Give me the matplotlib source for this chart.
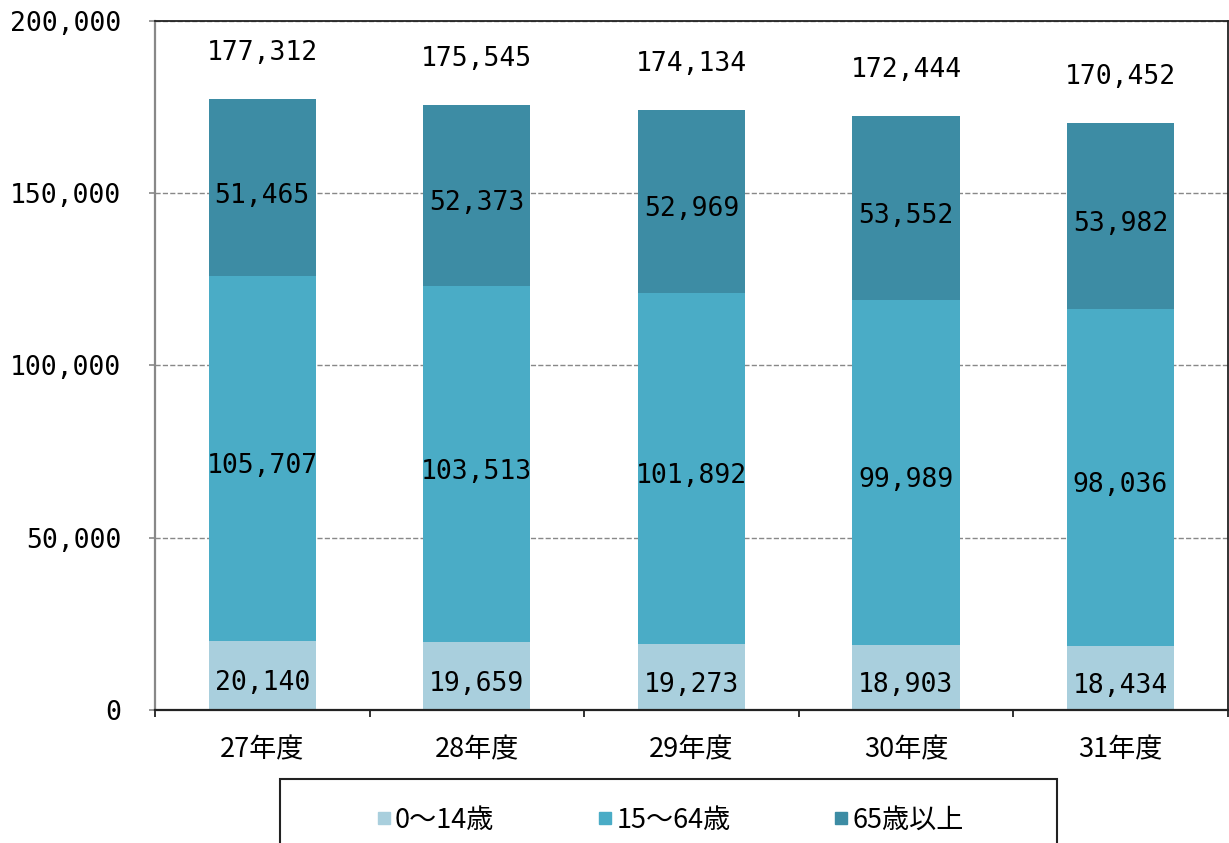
import matplotlib.pyplot as plt
from matplotlib.lines import Line2D
from matplotlib.patches import Rectangle
from matplotlib.ticker import FuncFormatter
import numpy as np

plt.rcParams['font.family'] = ['Noto Sans CJK JP', 'DejaVu Sans']

# 年齢3区分別人口
years = ['27年度', '28年度', '29年度', '30年度', '31年度']
age_0_14 = [20140, 19659, 19273, 18903, 18434]
age_15_64 = [105707, 103513, 101892, 99989, 98036]
age_65_over = [51465, 52373, 52969, 53552, 53982]
totals = [177312, 175545, 174134, 172444, 170452]

series = [
    ('0～14歳', age_0_14, '#a9cfdd'),
    ('15～64歳', age_15_64, '#4aacc6'),
    ('65歳以上', age_65_over, '#3d8ca4'),
]

num_font = ['DejaVu Sans Mono', 'Noto Sans CJK JP']

fig = plt.figure(figsize=(12.29, 8.43), dpi=100)
ax = fig.add_axes([0.1261, 0.1578, 0.8729, 0.8173])

x = np.arange(len(years))
bottom = np.zeros(len(years))
for name, vals, color in series:
    bars = ax.bar(x, vals, width=0.5, bottom=bottom, color=color, label=name, zorder=2)
    for rect, v in zip(bars, vals):
        ax.annotate(f'{v:,}', (rect.get_x() + rect.get_width() / 2, rect.get_y() + v / 2),
                    xytext=(0, -3.5), textcoords='offset points',
                    ha='center', va='center_baseline', fontsize=19, family=num_font, zorder=3)
    bottom += np.array(vals)

# 合計
for xi, t in zip(x, totals):
    ax.annotate(f'{t:,}', (xi, t), xytext=(0, 33), textcoords='offset points',
                ha='center', va='center', fontsize=19, family=num_font)

ax.set_xlim(-0.5, len(years) - 0.5)
ax.set_ylim(0, 200000)
ax.set_yticks(np.arange(0, 200001, 50000))
ax.yaxis.set_major_formatter(FuncFormatter(lambda v, p: f'{int(v):,}'))
for lbl in ax.get_yticklabels():
    lbl.set_family(num_font)
ax.tick_params(axis='y', direction='out', length=4.5, width=1.2, color='#888888',
               labelsize=19, pad=20)

ax.set_xticks(x)
ax.set_xticklabels(years)
ax.set_xticks(np.arange(-0.5, len(years)), minor=True)
ax.tick_params(axis='x', which='major', length=0, labelsize=19.5, pad=19)
ax.tick_params(axis='x', which='minor', direction='out', length=5, width=1.3, color='#222222')

ax.grid(axis='y', linestyle='--', color='#888888', linewidth=1, zorder=1)
ax.set_axisbelow(True)

ax.spines['left'].set_color('#888888')
ax.spines['left'].set_linewidth(1.6)
ax.spines['bottom'].set_color('#222222')
ax.spines['bottom'].set_linewidth(1.6)
ax.spines['top'].set_color('#222222')
ax.spines['top'].set_linewidth(1.3)
ax.spines['right'].set_color('#222222')
ax.spines['right'].set_linewidth(1.3)

# 凡例
handles = [Line2D([], [], marker='s', linestyle='none', markersize=9,
                  markerfacecolor=c, markeredgecolor=c) for _, _, c in series]
fig.legend(handles, [s[0] for s in series], loc='center', bbox_to_anchor=(0.545, 0.027),
           ncol=3, frameon=False, fontsize=19.5, handlelength=0.6, handletextpad=0.1,
           columnspacing=3.8)
fig.patches.append(Rectangle((0.2278, -0.05), 0.6323, 0.1259, transform=fig.transFigure,
                             fill=False, edgecolor='#222222', linewidth=1.5))

fig.savefig('out.png', dpi=100)
